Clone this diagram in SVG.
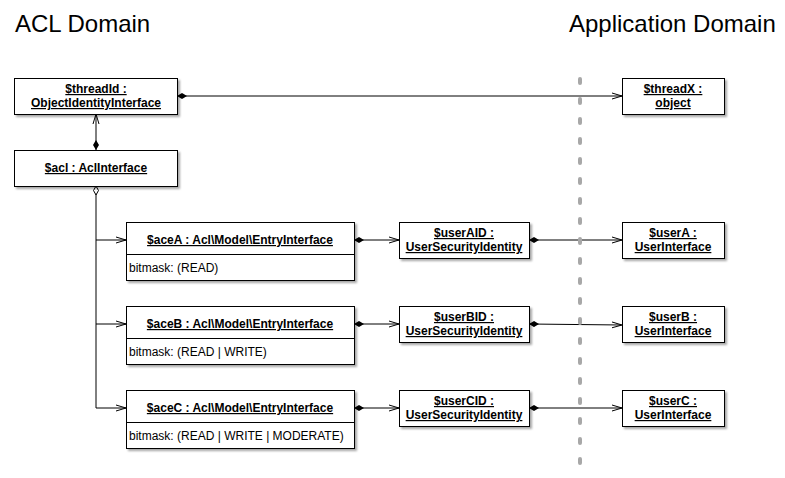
<svg xmlns="http://www.w3.org/2000/svg" width="785" height="478" viewBox="0 0 785 478">
<defs>
<style>
.title{font-family:"Liberation Sans",Arial,Helvetica,sans-serif;font-size:24px;fill:#000}
.box{fill:#fff;stroke:#000;stroke-width:1}
.div{stroke:#000;stroke-width:1}
.lbl{font-family:"Liberation Sans",Arial,Helvetica,sans-serif;font-size:12px;font-weight:bold;text-decoration:underline;fill:#000;text-anchor:middle}
.attr{font-family:"Liberation Sans",Arial,Helvetica,sans-serif;font-size:12px;fill:#000}
.conn{fill:none;stroke:#000;stroke-width:1}
.sep{stroke:#a8a8a8;stroke-width:4;stroke-linecap:round;stroke-dasharray:4 16;fill:none}
</style>
<filter id="sh" x="-10%" y="-20%" width="130%" height="160%">
<feDropShadow dx="2" dy="2" stdDeviation="1.2" flood-color="#000" flood-opacity="0.35"/>
</filter>
<marker id="fd" viewBox="0 0 10 6" refX="0" refY="3" markerWidth="10" markerHeight="6" markerUnits="userSpaceOnUse" orient="auto">
<path d="M0,3 L5,0 L10,3 L5,6 Z" fill="#000"/>
</marker>
<marker id="od" viewBox="0 0 10 6" refX="0.5" refY="3" markerWidth="10" markerHeight="6" markerUnits="userSpaceOnUse" orient="auto">
<path d="M0.5,3 L5,0.5 L9.5,3 L5,5.5 Z" fill="#fff" stroke="#000" stroke-width="1"/>
</marker>
<marker id="ar" viewBox="0 0 10 8" refX="10" refY="4" markerWidth="10" markerHeight="8" markerUnits="userSpaceOnUse" orient="auto">
<path d="M0,1 L10,4 L0,7" fill="none" stroke="#000" stroke-width="1"/>
</marker>
</defs>
<rect width="785" height="478" fill="#fff"/>
<text class="title" x="15" y="32">ACL Domain</text>
<text class="title" x="569" y="32">Application Domain</text>

<g id="connectors">
<path class="conn" d="M177,96 H622" marker-start="url(#fd)" marker-end="url(#ar)"/>
<path class="conn" d="M96,150 V114" marker-start="url(#fd)" marker-end="url(#ar)"/>
<path class="conn" d="M96,186 V408 H126" marker-start="url(#od)" marker-end="url(#ar)"/>
<path class="conn" d="M96,240 H126" marker-end="url(#ar)"/>
<path class="conn" d="M96,324 H126" marker-end="url(#ar)"/>
<path class="conn" d="M354,240 H399" marker-start="url(#fd)" marker-end="url(#ar)"/>
<path class="conn" d="M354,324 H399" marker-start="url(#fd)" marker-end="url(#ar)"/>
<path class="conn" d="M354,408 H399" marker-start="url(#fd)" marker-end="url(#ar)"/>
<path class="conn" d="M529,240 H622" marker-start="url(#fd)" marker-end="url(#ar)"/>
<path class="conn" d="M529,324 L622,325" marker-start="url(#fd)" marker-end="url(#ar)"/>
<path class="conn" d="M529,408 H622" marker-start="url(#fd)" marker-end="url(#ar)"/>
</g>

<line class="sep" x1="580" y1="79" x2="580" y2="463"/>

<g id="threadId">
<rect class="box" x="14.5" y="78.5" width="163" height="36" filter="url(#sh)"/>
<text class="lbl" x="96" y="93">$threadId :</text>
<text class="lbl" x="96" y="107">ObjectIdentityInterface</text>
</g>
<g id="acl">
<rect class="box" x="14.5" y="150.5" width="163" height="36" filter="url(#sh)"/>
<text class="lbl" x="96" y="172">$acl : AclInterface</text>
</g>
<g id="threadX">
<rect class="box" x="622.5" y="78.5" width="102" height="36" filter="url(#sh)"/>
<text class="lbl" x="673" y="93">$threadX :</text>
<text class="lbl" x="673" y="107">object</text>
</g>

<g id="aceA">
<rect class="box" x="126.5" y="222.5" width="228" height="58" filter="url(#sh)"/>
<line class="div" x1="126.5" y1="254.5" x2="354.5" y2="254.5"/>
<text class="lbl" x="240" y="244">$aceA : Acl\Model\EntryInterface</text>
<text class="attr" x="129" y="272">bitmask: (READ)</text>
</g>
<g id="aceB">
<rect class="box" x="126.5" y="306.5" width="228" height="58" filter="url(#sh)"/>
<line class="div" x1="126.5" y1="338.5" x2="354.5" y2="338.5"/>
<text class="lbl" x="240" y="328">$aceB : Acl\Model\EntryInterface</text>
<text class="attr" x="129" y="356">bitmask: (READ | WRITE)</text>
</g>
<g id="aceC">
<rect class="box" x="126.5" y="390.5" width="228" height="58" filter="url(#sh)"/>
<line class="div" x1="126.5" y1="422.5" x2="354.5" y2="422.5"/>
<text class="lbl" x="240" y="412">$aceC : Acl\Model\EntryInterface</text>
<text class="attr" x="129" y="440">bitmask: (READ | WRITE | MODERATE)</text>
</g>

<g id="userAID">
<rect class="box" x="399.5" y="222.5" width="130" height="36" filter="url(#sh)"/>
<text class="lbl" x="464" y="237">$userAID :</text>
<text class="lbl" x="464" y="251">UserSecurityIdentity</text>
</g>
<g id="userBID">
<rect class="box" x="399.5" y="306.5" width="130" height="36" filter="url(#sh)"/>
<text class="lbl" x="464" y="321">$userBID :</text>
<text class="lbl" x="464" y="335">UserSecurityIdentity</text>
</g>
<g id="userCID">
<rect class="box" x="399.5" y="390.5" width="130" height="36" filter="url(#sh)"/>
<text class="lbl" x="464" y="405">$userCID :</text>
<text class="lbl" x="464" y="419">UserSecurityIdentity</text>
</g>

<g id="userA">
<rect class="box" x="622.5" y="222.5" width="102" height="36" filter="url(#sh)"/>
<text class="lbl" x="673" y="237">$userA :</text>
<text class="lbl" x="673" y="251">UserInterface</text>
</g>
<g id="userB">
<rect class="box" x="622.5" y="306.5" width="102" height="36" filter="url(#sh)"/>
<text class="lbl" x="673" y="321">$userB :</text>
<text class="lbl" x="673" y="335">UserInterface</text>
</g>
<g id="userC">
<rect class="box" x="622.5" y="390.5" width="102" height="36" filter="url(#sh)"/>
<text class="lbl" x="673" y="405">$userC :</text>
<text class="lbl" x="673" y="419">UserInterface</text>
</g>
</svg>
